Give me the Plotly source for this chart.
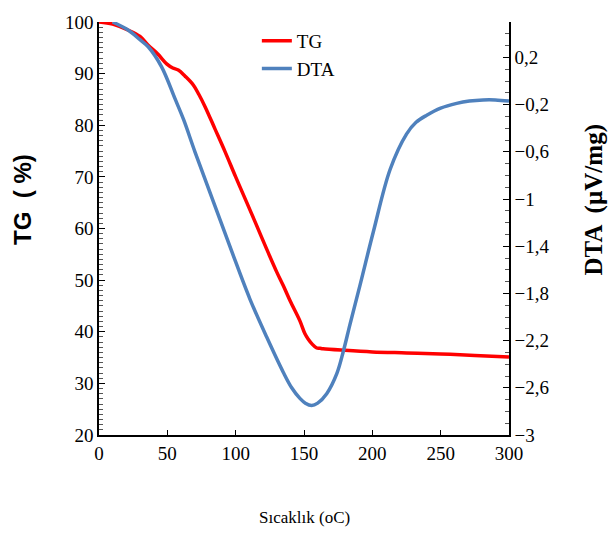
import plotly.graph_objects as go

tg_x = [0, 10, 21.5, 30, 36, 43, 49.5, 54, 58, 63, 69, 73, 77.6, 85, 92.2, 100, 108, 115, 122.7,
        130, 134.9, 140, 147, 150.7, 153, 156, 159, 161.7, 164, 180, 200, 225, 250, 275, 300]
tg_v = [100, 99.6, 98.4, 97.2, 95.5, 93.8, 91.9, 91.1, 90.7, 89.5, 87.8, 86.0, 83.6, 79.2, 74.9,
        70.0, 65.1, 60.8, 56.0, 51.6, 48.9, 45.9, 42.1, 39.6, 38.6, 37.6, 36.9, 36.8, 36.7,
        36.4, 36.1, 35.9, 35.7, 35.4, 35.1]

dta_x = [10, 21.5, 30, 36, 45.8, 55.6, 62, 70.2, 83.6, 97, 110.5, 122.7, 134.9, 141, 147, 151,
         155.6, 160, 166.6, 174, 178.8, 183.7, 191, 200.7, 213, 225, 232, 239.8, 250, 261.7,
         271, 281, 290, 300]
dta_v = [0.5, 0.43, 0.35, 0.29, 0.12, -0.15, -0.33, -0.60, -1.02, -1.44, -1.85, -2.17, -2.47,
         -2.60, -2.69, -2.73, -2.75, -2.73, -2.65, -2.48, -2.29, -2.06, -1.73, -1.28, -0.75,
         -0.45, -0.35, -0.29, -0.23, -0.19, -0.17, -0.16, -0.16, -0.17]

serif = "Liberation Serif"

fig = go.Figure()
fig.add_trace(go.Scatter(x=tg_x, y=tg_v, name="TG", mode="lines",
                         line=dict(color="#FF0000", width=3.5, shape="spline", smoothing=1)))
fig.add_trace(go.Scatter(x=dta_x, y=dta_v, name="DTA", mode="lines", yaxis="y2",
                         line=dict(color="#4F81BD", width=3.5, shape="spline", smoothing=1)))

fig.update_layout(
    width=609, height=538,
    margin=dict(l=99, r=100, t=18, b=103),
    paper_bgcolor="white", plot_bgcolor="white",
    separators=", ",
    font=dict(family=serif, size=19, color="black"),
    showlegend=True,
    legend=dict(x=0.385, y=1.0, xanchor="left", yanchor="top", bgcolor="rgba(0,0,0,0)",
                font=dict(family=serif, size=19), tracegroupgap=0, itemwidth=30),
    xaxis=dict(range=[0, 300], tick0=0, dtick=50, ticks="inside", ticklen=5, tickcolor="black",
               showline=True, linecolor="black", linewidth=1.5, showgrid=False, zeroline=False,
               tickfont=dict(family=serif, size=19)),
    yaxis=dict(range=[20, 100], tick0=20, dtick=10, ticks="inside", ticklen=6, tickcolor="black",
               minor=dict(dtick=1, ticks="inside", ticklen=4, tickcolor="#555"),
               showline=True, linecolor="black", linewidth=1.5, showgrid=False, zeroline=False,
               tickfont=dict(family=serif, size=19)),
    yaxis2=dict(range=[-3, 0.5], overlaying="y", side="right", tick0=-3, dtick=0.4,
                ticks="inside", ticklen=6, tickcolor="black",
                minor=dict(dtick=0.1, ticks="inside", ticklen=4, tickcolor="#555"),
                showline=True, linecolor="black", linewidth=1.5, showgrid=False, zeroline=False,
                tickfont=dict(family=serif, size=19)),
    annotations=[
        dict(text="Sıcaklık (oC)", xref="paper", yref="paper", x=0.5, y=-0.2, yanchor="middle",
             showarrow=False, font=dict(family=serif, size=17)),
        dict(text="<b>TG  ( %)</b>", xref="paper", yref="paper", x=-0.187, y=0.57,
             xanchor="center", yanchor="middle", textangle=-90, showarrow=False,
             font=dict(family="Liberation Sans", size=24)),
        dict(text="<b>DTA  (µV/mg)</b>", xref="paper", yref="paper", x=1.207, y=0.57,
             xanchor="center", yanchor="middle", textangle=-90, showarrow=False,
             font=dict(family=serif, size=25)),
    ],
)

fig.write_html("out.html")
